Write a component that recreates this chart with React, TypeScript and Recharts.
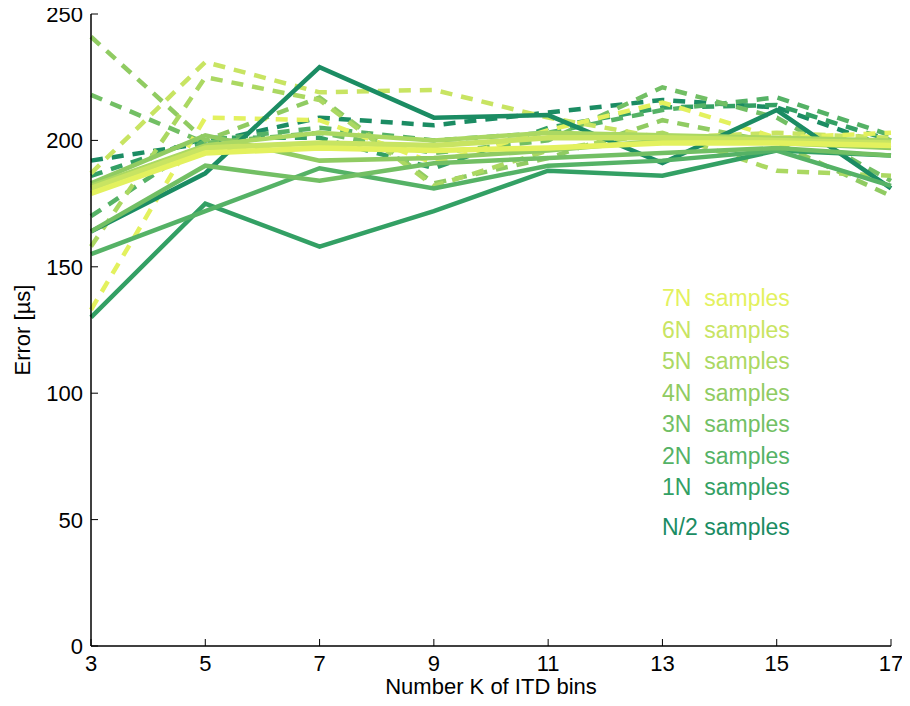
import React from 'react';
import { LineChart, Line, XAxis, YAxis, Legend } from 'recharts';

// ---- data ----
const kValues = [3, 5, 7, 9, 11, 13, 15, 17];
const xTicks = [3, 5, 7, 9, 11, 13, 15, 17];
const yTicks = [0, 50, 100, 150, 200, 250];
const seriesLabels = ['N/2', '1N', '2N', '3N', '4N', '5N', '6N', '7N'];

// solid lines
const solidNHalf = [164, 187, 229, 209, 210, 191, 212, 181];
const solid1N = [130, 175, 158, 172, 188, 186, 196, 194];
const solid2N = [155, 172, 189, 181, 190, 192, 196, 182];
const solid3N = [164, 190, 184, 191, 193, 195, 197, 194];
const solid4N = [183, 202, 192, 193, 196, 200, 199, 197];
const solid5N = [182, 198, 203, 200, 203, 202, 201, 200];
const solid6N = [181, 197, 199, 198, 201, 201, 200, 199];
const solid7N = [179, 195, 197, 196, 197, 199, 199, 198];

// dashed lines
const dashNHalf = [192, 199, 209, 206, 211, 216, 213, 197];
const dash1N = [186, 201, 201, 189, 205, 213, 214, 200];
const dash2N = [170, 200, 205, 200, 203, 212, 217, 202];
const dash3N = [218, 199, 203, 195, 200, 221, 209, 184];
const dash4N = [241, 200, 217, 183, 193, 208, 199, 178];
const dash5N = [158, 225, 216, 182, 196, 203, 188, 186];
const dash6N = [187, 231, 219, 220, 209, 201, 203, 201];
const dash7N = [133, 209, 208, 191, 204, 215, 201, 203];

const solidSeries = [solidNHalf, solid1N, solid2N, solid3N, solid4N, solid5N, solid6N, solid7N];
const dashSeries = [dashNHalf, dash1N, dash2N, dash3N, dash4N, dash5N, dash6N, dash7N];

// ---- styles ----
const colors = ['#1b8c63', '#33a064', '#55b266', '#72bf64', '#90cb62', '#abd862', '#c8e462', '#e3f15e'];
const FONT = '"Liberation Sans", Arial, Helvetica, sans-serif';
const FS = 22;

const data = kValues.map((k, i) => {
  const row: any = { k };
  seriesLabels.forEach((_, s) => {
    row['s' + s] = solidSeries[s][i];
    row['d' + s] = dashSeries[s][i];
  });
  return row;
});

const BottomTick = (p: any) => (
  <g>
    <line x1={p.x} x2={p.x} y1={p.y - 8} y2={p.y - 15} stroke="#000" strokeWidth={1} />
    <text x={p.x} y={p.y} dy="0.78em" textAnchor="middle" fontSize={FS} fontFamily={FONT} fill="#000">
      {p.payload.value}
    </text>
  </g>
);
const LeftTick = (p: any) => (
  <g>
    <line x1={p.x + 8} x2={p.x + 15} y1={p.y} y2={p.y} stroke="#000" strokeWidth={1} />
    <text x={p.x} y={p.y} dy="0.36em" textAnchor="end" fontSize={FS} fontFamily={FONT} fill="#000">
      {p.payload.value}
    </text>
  </g>
);
const TopTick = (p: any) => (
  <line x1={p.x} x2={p.x} y1={p.y} y2={p.y + 7} stroke="#000" strokeWidth={1} />
);
const RightTick = (p: any) => (
  <line x1={p.x} x2={p.x - 7} y1={p.y} y2={p.y} stroke="#000" strokeWidth={1} />
);

const legendRows = [7, 6, 5, 4, 3, 2, 1, 0];
const LegendContent = () => (
  <div style={{ fontFamily: FONT, fontSize: 23, lineHeight: '31.5px' }}>
    {legendRows.map((s) => (
      <div
        key={s}
        style={{ color: colors[s], whiteSpace: 'pre', marginTop: s === 0 ? 8 : 0 }}
      >
        {seriesLabels[s] === 'N/2' ? 'N/2 samples' : seriesLabels[s] + '  samples'}
      </div>
    ))}
  </div>
);

export default function App() {
  return (
    <div style={{ width: 900, height: 698, position: 'relative', marginTop: -8 }}>
      <LineChart width={900} height={698} data={data} margin={{ top: 14, right: 17, left: 0, bottom: 0 }}>
        <XAxis
          dataKey="k"
          type="number"
          domain={[3, 17]}
          ticks={xTicks}
          tickSize={0}
          tickMargin={8}
          height={52}
          axisLine={{ stroke: '#000', strokeWidth: 1.5 }}
          tick={(p: any) => <BottomTick {...p} />}
          interval={0}
          label={{
            value: 'Number K of ITD bins',
            position: 'insideBottom',
            offset: 4,
            style: { fontFamily: FONT, fontSize: FS, fill: '#000' },
          }}
        />
        <XAxis
          xAxisId="top"
          dataKey="k"
          type="number"
          orientation="top"
          domain={[3, 17]}
          ticks={xTicks}
          tickSize={0}
          tickMargin={0}
          height={0}
          axisLine={{ stroke: '#000', strokeWidth: 1.5 }}
          tick={(p: any) => <TopTick {...p} />}
          interval={0}
        />
        <YAxis
          type="number"
          domain={[0, 250]}
          ticks={yTicks}
          tickSize={0}
          tickMargin={8}
          width={83}
          axisLine={{ stroke: '#000', strokeWidth: 1.5 }}
          tick={(p: any) => <LeftTick {...p} />}
          interval={0}
          label={{
            content: (props: any) => {
              const vb = props.viewBox || {};
              const cx = 14;
              const cy = (vb.y || 14) + (vb.height || 632) / 2;
              return (
                <text
                  x={cx}
                  y={cy}
                  transform={`rotate(-90 ${cx} ${cy})`}
                  textAnchor="middle"
                  dy="0.36em"
                  fontFamily={FONT}
                  fontSize={FS}
                  fill="#000"
                >
                  Error [µs]
                </text>
              );
            },
          }}
        />
        <YAxis
          yAxisId="right"
          orientation="right"
          type="number"
          domain={[0, 250]}
          ticks={yTicks}
          tickSize={0}
          tickMargin={0}
          width={0}
          axisLine={{ stroke: '#000', strokeWidth: 1.5 }}
          tick={(p: any) => <RightTick {...p} />}
          interval={0}
        />
        <Legend
          layout="horizontal"
          verticalAlign="middle"
          align="center"
          content={<LegendContent />}
          wrapperStyle={{ position: 'absolute', left: 654, top: 283, width: 210, bottom: 'auto', right: 'auto' }}
        />
        {seriesLabels.map((name, s) => (
          <Line
            key={'d' + s}
            dataKey={'d' + s}
            name={name + ' dashed'}
            stroke={colors[s]}
            strokeWidth={4.5}
            strokeDasharray="12 9"
            dot={false}
            isAnimationActive={false}
            legendType="none"
          />
        ))}
        {seriesLabels.map((name, s) => (
          <Line
            key={'s' + s}
            dataKey={'s' + s}
            name={name}
            stroke={colors[s]}
            strokeWidth={s >= 6 ? 5.5 : 4.5}
            dot={false}
            isAnimationActive={false}
          />
        ))}
      </LineChart>
    </div>
  );
}
